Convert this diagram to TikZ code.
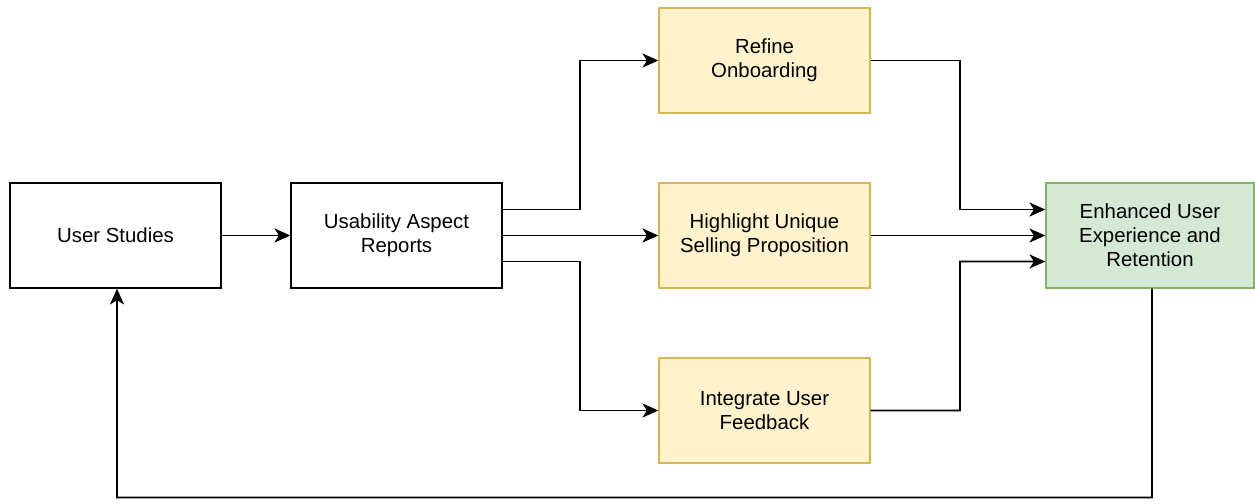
\documentclass[tikz,border=0pt]{standalone}
\usepackage{fontspec}
\setmainfont{Liberation Sans}
\usetikzlibrary{arrows.meta, positioning}
\definecolor{ylwfill}{HTML}{FFF2CC}
\definecolor{ylwline}{HTML}{D6B656}
\definecolor{grnfill}{HTML}{D5E8D4}
\definecolor{grnline}{HTML}{82B366}

\begin{document}
\begin{tikzpicture}[
      box/.style={draw, fill=white, minimum width=4.22cm, minimum height=2.1cm, align=center, font=\fontsize{11.6}{13.6}\selectfont, line width=0.8pt},
      act/.style={box, fill=ylwfill, draw=ylwline},
      goal/.style={box, fill=grnfill, draw=grnline, minimum width=4.16cm},
      arr/.style={-{Stealth[length=9pt, width=8pt, inset=2.5pt]}, line width=1pt}
    ]
      \useasboundingbox (0,0) rectangle (25.1,-10.06);
      \node[box]  (studies) at (2.31,-4.71)  {User Studies};
      \node[box]  (reports) at (7.93,-4.71)  {Usability Aspect\\Reports};
      \node[act]  (onboard) at (15.29,-1.21) {Refine\\Onboarding};
      \node[act]  (usp)     at (15.29,-4.71) {Highlight Unique\\Selling Proposition};
      \node[act]  (feedbk)  at (15.29,-8.21) {Integrate User\\Feedback};
      \node[goal] (retain)  at (23.0,-4.71)  {Enhanced User\\Experience and\\Retention};
      \draw[arr] (studies)--(reports);
      \draw[arr] ([yshift=0.52cm]reports.east) -| (11.6,-1.21) -- (onboard.west);
      \draw[arr] (reports)--(usp);
      \draw[arr] ([yshift=-0.52cm]reports.east) -| (11.6,-8.21) -- (feedbk.west);
      \draw[arr] (onboard.east) -| (19.2,-4.19) -- ([yshift=0.52cm]retain.west);
      \draw[arr] (usp)--(retain);
      \draw[arr] (feedbk.east) -| (19.2,-5.23) -- ([yshift=-0.52cm]retain.west);
      % back to the studies
      \draw[arr] ([xshift=0.04cm]retain.south) |- (2.34,-9.95) -- ([xshift=0.03cm]studies.south);
    \end{tikzpicture}
\end{document}
